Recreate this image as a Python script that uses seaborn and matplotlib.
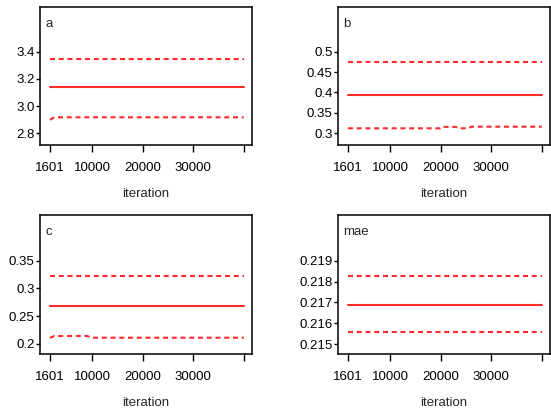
import matplotlib
matplotlib.use("Agg")
import matplotlib.pyplot as plt
import seaborn as sns
import pandas as pd

sns.set_style("ticks")
plt.rcParams['font.family'] = ['Liberation Sans Narrow', 'Liberation Sans', 'DejaVu Sans']

# ---- data ----
iterations = [1601, 2500, 8900, 10000, 19900, 20200, 23000, 23500, 25500, 26000, 40000]

a_median = [3.138] * 11
a_upper  = [3.346] * 11
a_lower  = [2.900, 2.918, 2.918, 2.918, 2.918, 2.918, 2.918, 2.918, 2.918, 2.918, 2.918]

b_median = [0.393] * 11
b_upper  = [0.475] * 11
b_lower  = [0.312, 0.312, 0.312, 0.312, 0.312, 0.3155, 0.3155, 0.312, 0.312, 0.316, 0.316]

c_median = [0.268] * 11
c_upper  = [0.322] * 11
c_lower  = [0.211, 0.2144, 0.2144, 0.2113, 0.2113, 0.2113, 0.2113, 0.2113, 0.2113, 0.2113, 0.2113]

mae_median = [0.21688] * 11
mae_upper  = [0.21827] * 11
mae_lower  = [0.21560] * 11

panel_names = ["a", "b", "c", "mae"]
panel_data = [(a_median, a_upper, a_lower),
              (b_median, b_upper, b_lower),
              (c_median, c_upper, c_lower),
              (mae_median, mae_upper, mae_lower)]
yticks = [[2.8, 3.0, 3.2, 3.4],
          [0.3, 0.35, 0.4, 0.45, 0.5],
          [0.2, 0.25, 0.3, 0.35],
          [0.215, 0.216, 0.217, 0.218, 0.219]]
yticklabels = [["2.8", "3.0", "3.2", "3.4"],
               ["0.3", "0.35", "0.4", "0.45", "0.5"],
               ["0.2", "0.25", "0.3", "0.35"],
               ["0.215", "0.216", "0.217", "0.218", "0.219"]]
ylims = [(2.714, 3.73), (0.271, 0.61), (0.182, 0.432), (0.21452, 0.2212)]
xticks = [1601, 10000, 20000, 30000, 40000]
xticklabels = ["1601", "10000", "20000", "30000", ""]

W, H = 551, 413
fig = plt.figure(figsize=(W / 100, H / 100), dpi=100)
boxes = [(40, 7, 252, 145), (338, 7, 550, 145), (40, 215, 252, 354), (338, 215, 550, 354)]

red = "#ff2a2a"
fs = 9.5
for i, (name, (med, up, lo)) in enumerate(zip(panel_names, panel_data)):
    l, t, r, b = boxes[i]
    ax = fig.add_axes([l / W, 1 - b / H, (r - l) / W, (b - t) / H])
    df = pd.DataFrame({"iteration": iterations, "median": med, "upper": up, "lower": lo})
    sns.lineplot(data=df, x="iteration", y="median", ax=ax, color=red, lw=1.5)
    sns.lineplot(data=df, x="iteration", y="upper", ax=ax, color=red, lw=1.5,
                 dashes=(2.4, 1.8))
    sns.lineplot(data=df, x="iteration", y="lower", ax=ax, color=red, lw=1.5,
                 dashes=(2.4, 1.8))
    ax.set_xlim(-359, 41621)
    ax.set_ylim(*ylims[i])
    ax.set_xticks(xticks)
    ax.set_xticklabels(xticklabels)
    ax.set_yticks(yticks[i])
    ax.set_yticklabels(yticklabels[i])
    ax.set_xlabel("iteration", fontsize=fs, labelpad=10)
    ax.set_ylabel("")
    for s in ax.spines.values():
        s.set_visible(True)
        s.set_linewidth(1.1)
        s.set_color("black")
    ax.tick_params(axis="x", length=5, width=1.0, pad=7, labelsize=fs, colors="black")
    ax.tick_params(axis="y", length=3, width=1.0, pad=1, labelsize=fs, colors="black")
    ax.annotate(name, xy=(0, 1), xycoords="axes fraction", xytext=(4, -8),
                textcoords="offset points", ha="left", va="top", fontsize=fs)

fig.savefig("out.png", dpi=100)
